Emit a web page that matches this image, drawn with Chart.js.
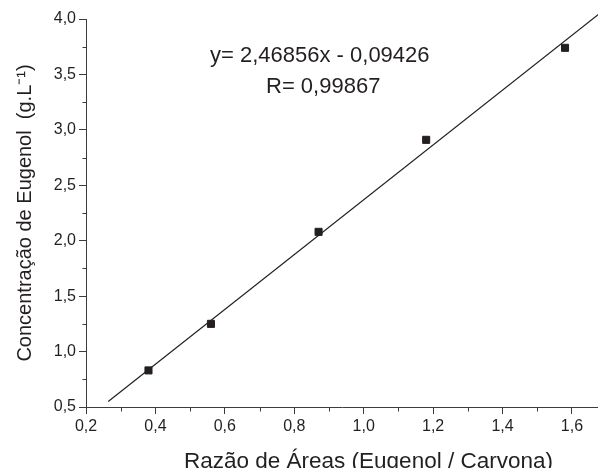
<!DOCTYPE html>
<html>
<head>
<meta charset="utf-8">
<script src="https://cdn.jsdelivr.net/npm/chart.js@4.4.1/dist/chart.umd.min.js"></script>
<style>
  html, body { margin: 0; padding: 0; background: #ffffff; overflow: hidden; }
  #wrap { width: 598px; height: 468px; }
  canvas { display: block; }
</style>
</head>
<body>
<div id="wrap"><canvas id="c" width="598" height="468"></canvas></div>
<script>
// ---- data ----
const ratioValues = [0.38, 0.56, 0.87, 1.18, 1.58];          // Razão de Áreas
const concValues  = [0.83, 1.25, 2.08, 2.91, 3.74];          // Concentração de Eugenol
const fitLineX = [0.264, 1.68];                               // fitted line ends
const fitLineY = [0.55, 4.05];
const xMajorTicks = [0.2, 0.4, 0.6, 0.8, 1.0, 1.2, 1.4, 1.6];
const xMinorTicks = [0.3, 0.5, 0.7, 0.9, 1.1, 1.3, 1.5];
const yMajorTicks = [0.5, 1.0, 1.5, 2.0, 2.5, 3.0, 3.5, 4.0];
const yMinorTicks = [0.75, 1.25, 1.75, 2.25, 2.75, 3.25, 3.75];
const equationLines = ['y= 2,46856x - 0,09426', 'R= 0,99867'];
const xTitle = 'Razão de Áreas (Eugenol / Carvona)';
const yTitle = 'Concentração de Eugenol  (g.L⁻¹)';

const TEXT = '#231f20';
const AXIS = '#3c3c3c';
const FONT = "'Liberation Sans', Arial, sans-serif";
const fmt = v => v.toFixed(1).replace('.', ',');

const pointData = ratioValues.map((x, i) => ({ x: x, y: concValues[i] }));
const lineData = fitLineX.map((x, i) => ({ x: x, y: fitLineY[i] }));

// stretch the plot area to the right edge of the canvas (the reference is cropped there)
const stretch = {
  id: 'stretch',
  afterLayout(chart) {
    const right = chart.width;
    const ca = chart.chartArea;
    ca.right = right;
    ca.width = right - ca.left;
    const xs = chart.scales.x;
    xs.right = right;
    xs.width = right - xs.left;
    xs.configure();
  }
};

const extras = {
  id: 'extras',
  afterDraw(chart) {
    const ctx = chart.ctx;
    const xs = chart.scales.x, ys = chart.scales.y;
    ctx.save();
    // minor ticks
    ctx.strokeStyle = AXIS;
    ctx.lineWidth = 1;
    ctx.beginPath();
    const bottom = Math.round(chart.chartArea.bottom) + 0.5;
    xMinorTicks.forEach(v => {
      const px = Math.round(xs.getPixelForValue(v)) + 0.5;
      ctx.moveTo(px, bottom);
      ctx.lineTo(px, bottom + 4);
    });
    const left = Math.round(chart.chartArea.left) + 0.5;
    yMinorTicks.forEach(v => {
      const py = Math.round(ys.getPixelForValue(v)) + 0.5;
      ctx.moveTo(left, py);
      ctx.lineTo(left - 4, py);
    });
    ctx.stroke();

    ctx.fillStyle = TEXT;
    // equation
    ctx.font = '22px ' + FONT;
    ctx.textAlign = 'left';
    ctx.textBaseline = 'alphabetic';
    ctx.fillText(equationLines[0], 210, 62);
    ctx.fillText(equationLines[1], 266, 93);
    // x title
    ctx.font = '22.5px ' + FONT;
    ctx.fillText(xTitle, 184, 468);
    // y title
    ctx.font = '20px ' + FONT;
    ctx.translate(31, (chart.chartArea.top + chart.chartArea.bottom) / 2);
    ctx.rotate(-Math.PI / 2);
    ctx.textAlign = 'center';
    ctx.fillText(yTitle, 0, 0);
    ctx.restore();
  }
};

new Chart(document.getElementById('c'), {
  type: 'scatter',
  data: {
    datasets: [
      {
        label: 'fit',
        data: lineData,
        showLine: true,
        borderColor: TEXT,
        borderWidth: 1.2,
        pointRadius: 0,
        clip: false,
        order: 2
      },
      {
        label: 'dados',
        data: pointData,
        showLine: false,
        pointStyle: 'rect',
        pointRadius: 5,
        pointBorderWidth: 1,
        backgroundColor: TEXT,
        borderColor: TEXT,
        order: 1
      }
    ]
  },
  options: {
    responsive: false,
    animation: false,
    devicePixelRatio: 1,
    layout: { padding: { top: 19, right: 0, left: 0, bottom: 0 } },
    plugins: { legend: { display: false }, tooltip: { enabled: false } },
    scales: {
      x: {
        type: 'linear',
        min: 0.2,
        max: 1.675,
        afterBuildTicks: s => { s.ticks = xMajorTicks.map(v => ({ value: v })); },
        afterFit: s => { s.height = 61; s.paddingLeft = 0; s.paddingRight = 0; },
        ticks: {
          callback: v => fmt(v),
          color: TEXT,
          font: { family: FONT, size: 16 },
          padding: 3,
          maxRotation: 0,
          autoSkip: false
        },
        grid: { drawOnChartArea: false, drawTicks: true, tickLength: 7, tickColor: AXIS, tickWidth: 1 },
        border: { display: true, color: AXIS, width: 1 }
      },
      y: {
        type: 'linear',
        min: 0.5,
        max: 4.0,
        afterBuildTicks: s => { s.ticks = yMajorTicks.map(v => ({ value: v })); },
        afterFit: s => { s.width = 86; s.paddingTop = 0; s.paddingBottom = 0; },
        ticks: {
          callback: v => fmt(v),
          color: TEXT,
          font: { family: FONT, size: 16 },
          padding: 3,
          autoSkip: false
        },
        grid: { drawOnChartArea: false, drawTicks: true, tickLength: 7, tickColor: AXIS, tickWidth: 1 },
        border: { display: true, color: AXIS, width: 1 }
      }
    }
  },
  plugins: [stretch, extras]
});
</script>
</body>
</html>
